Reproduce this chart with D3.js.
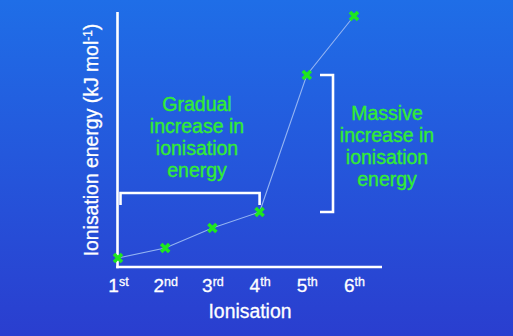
<!DOCTYPE html>
<html>
<head>
<meta charset="utf-8">
<script src="https://cdn.jsdelivr.net/npm/d3@7"></script>
<style>
  html, body { margin: 0; padding: 0; background: #2456dc; }
  svg { display: block; }
  text { font-family: "Liberation Sans", Arial, sans-serif; }
</style>
</head>
<body>
<div id="chart"></div>
<script>
// Successive ionisation energies (relative units, no numeric scale shown)
const ordinals = ["1", "2", "3", "4", "5", "6"];
const suffixes = ["st", "nd", "rd", "th", "th", "th"];
const energies = [9, 19, 39, 55, 192, 251];
const yMax = 255;

const gradualLines = ["Gradual", "increase in", "ionisation", "energy"];
const massiveLines = ["Massive", "increase in", "ionisation", "energy"];

const W = 513, H = 336;
const plot = { left: 117.5, right: 382, top: 12, bottom: 267 };

const svg = d3.select("#chart").append("svg")
  .attr("width", W).attr("height", H);

// Background: vertical blue gradient
const grad = svg.append("defs").append("linearGradient")
  .attr("id", "bg").attr("x1", 0).attr("y1", 0).attr("x2", 0).attr("y2", 1);
grad.append("stop").attr("offset", "0%").attr("stop-color", "#1f6ee7");
grad.append("stop").attr("offset", "100%").attr("stop-color", "#2a3ecf");
svg.append("rect").attr("width", W).attr("height", H).attr("fill", "url(#bg)");

const x = d3.scalePoint().domain(ordinals).range([118, 354]);
const y = d3.scaleLinear().domain([0, yMax]).range([plot.bottom, plot.top]);

const pts = ordinals.map((o, i) => ({ o, v: energies[i] }));

// Axis tick labels with superscript ordinal suffixes
const xAxis = d3.axisBottom(x).tickSize(0).tickPadding(0).tickFormat(() => "");
const gx = svg.append("g").attr("transform", `translate(0,${plot.bottom})`).call(xAxis);
gx.select(".domain").remove();
gx.selectAll(".tick text").each(function(d, i) {
  const t = d3.select(this)
    .attr("y", 25).attr("dy", null)
    .attr("fill", "#ffffff").attr("stroke", "#ffffff").attr("stroke-width", 0.3)
    .attr("font-size", 19)
    .attr("text-anchor", "middle");
  t.append("tspan").text(d);
  t.append("tspan").attr("font-size", 12.5).attr("dy", -6).text(suffixes[i]);
});

// Axis lines
svg.append("line")
  .attr("x1", plot.left).attr("x2", plot.left)
  .attr("y1", plot.top).attr("y2", plot.bottom + 1.3)
  .attr("stroke", "#ffffff").attr("stroke-width", 2.6);
svg.append("line")
  .attr("x1", plot.left - 1.3).attr("x2", plot.right)
  .attr("y1", plot.bottom).attr("y2", plot.bottom)
  .attr("stroke", "#ffffff").attr("stroke-width", 2.6);

// Axis titles
svg.append("text")
  .attr("x", 250).attr("y", 318)
  .attr("text-anchor", "middle").attr("fill", "#ffffff")
  .attr("stroke", "#ffffff").attr("stroke-width", 0.3).attr("font-size", 19.4)
  .text("Ionisation");

const yTitle = svg.append("text")
  .attr("transform", "translate(98,140) rotate(-90)")
  .attr("text-anchor", "middle").attr("fill", "#ffffff")
  .attr("stroke", "#ffffff").attr("stroke-width", 0.3).attr("font-size", 19.4);
yTitle.append("tspan").text("Ionisation energy (kJ mol");
yTitle.append("tspan").attr("font-size", 12).attr("dy", -6).text("-1");
yTitle.append("tspan").attr("dy", 6).text(")");

// Connecting line
svg.append("path")
  .datum(pts)
  .attr("d", d3.line().x(d => x(d.o)).y(d => y(d.v)))
  .attr("fill", "none").attr("stroke", "#94b4f2").attr("stroke-width", 1.1);

// Cross markers
svg.append("g").selectAll("path")
  .data(pts).join("path")
  .attr("transform", d => `translate(${x(d.o)},${y(d.v)})`)
  .attr("d", "M-4,-4L4,4M-4,4L4,-4")
  .attr("stroke", "#1ee81e").attr("stroke-width", 3.5).attr("fill", "none");

// Bracket over the gradual rise (1st to 4th)
const gx0 = x(ordinals[0]) + 2.5, gx1 = x(ordinals[3]);
const gTop = 193, gBot = 205;
svg.append("path")
  .attr("d", `M${gx0},${gBot}V${gTop}H${gx1}V${gBot}`)
  .attr("fill", "none").attr("stroke", "#ffffff").attr("stroke-width", 2.6);

// Bracket beside the jump (4th to 5th)
const mx = 333, mTick = 320;
const my0 = y(energies[4]), my1 = y(energies[3]);
svg.append("path")
  .attr("d", `M${mTick},${my0}H${mx}V${my1}H${mTick}`)
  .attr("fill", "none").attr("stroke", "#ffffff").attr("stroke-width", 2.6);

// Annotation text
function block(lines, cx, baseline) {
  svg.append("g").selectAll("text")
    .data(lines).join("text")
    .attr("x", cx).attr("y", (d, i) => baseline + i * 22)
    .attr("text-anchor", "middle").attr("fill", "#33ec33")
    .attr("stroke", "#33ec33").attr("stroke-width", 0.35).attr("font-size", 19.5)
    .text(d => d);
}
block(gradualLines, 197, 111);
block(massiveLines, 387, 119.5);
</script>
</body>
</html>
